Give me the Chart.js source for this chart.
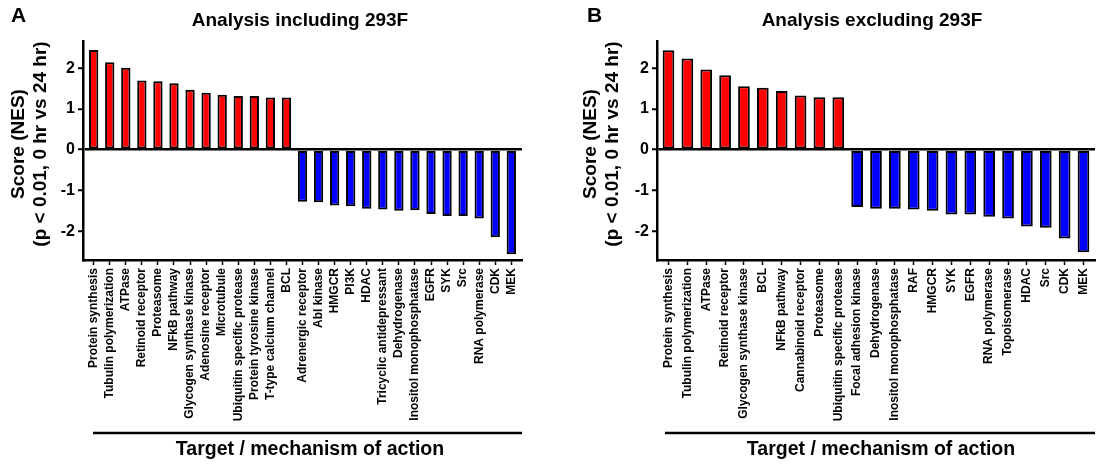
<!DOCTYPE html>
<html>
<head>
<meta charset="utf-8">
<script src="https://cdn.jsdelivr.net/npm/chart.js@4"></script>
<style>
  html, body { margin:0; padding:0; background:#fff; }
  body { width:1103px; height:464px; position:relative; overflow:hidden; }
  canvas { position:absolute; top:0; }
</style>
</head>
<body>
<canvas id="chartA" width="551" height="464" style="left:0"></canvas>
<canvas id="chartB" width="552" height="464" style="left:551px"></canvas>
<script>
const FONT = '"Liberation Sans", Arial, Helvetica, sans-serif';

// panel A: including 293F
const labelsA = ['Protein synthesis','Tubulin polymerization','ATPase','Retinoid receptor','Proteasome',
  'NFkB pathway','Glycogen synthase kinase','Adenosine receptor','Microtubule','Ubiquitin specific protease',
  'Protein tyrosine kinase','T-type calcium channel','BCL','Adrenergic receptor','Abl kinase','HMGCR','PI3K',
  'HDAC','Tricyclic antidepressant','Dehydrogenase','Inositol monophosphatase','EGFR','SYK','Src',
  'RNA polymerase','CDK','MEK'];
const scoresA = [2.45, 2.15, 2.01, 1.70, 1.68, 1.63, 1.47, 1.40, 1.35, 1.32, 1.32, 1.28, 1.28,
  -1.28, -1.29, -1.37, -1.39, -1.45, -1.47, -1.50, -1.49, -1.58, -1.63, -1.63, -1.69, -2.15, -2.57];

// panel B: excluding 293F
const labelsB = ['Protein synthesis','Tubulin polymerization','ATPase','Retinoid receptor','Glycogen synthase kinase',
  'BCL','NFkB pathway','Cannabinoid receptor','Proteasome','Ubiquitin specific protease','Focal adhesion kinase',
  'Dehydrogenase','Inositol monophosphatase','RAF','HMGCR','SYK','EGFR','RNA polymerase','Topoisomerase',
  'HDAC','Src','CDK','MEK'];
const scoresB = [2.44, 2.24, 1.97, 1.83, 1.56, 1.52, 1.44, 1.33, 1.29, 1.29,
  -1.41, -1.45, -1.45, -1.47, -1.50, -1.59, -1.59, -1.65, -1.69, -1.89, -1.92, -2.18, -2.52];

const yTicks = [-2, -1, 0, 1, 2];

const panelText = {
  id: 'panelText',
  afterDraw(chart, args, o) {
    const ctx = chart.ctx;
    ctx.save();
    ctx.fillStyle = '#000';
    ctx.strokeStyle = '#000';
    ctx.font = `bold 21px ${FONT}`;
    ctx.textAlign = 'left';
    ctx.textBaseline = 'alphabetic';
    ctx.fillText(o.letter, o.letterX, 22);
    ctx.font = `bold 19px ${FONT}`;
    ctx.textAlign = 'center';
    ctx.fillText(o.title, o.titleX, 26);

    // y title, two lines
    ctx.save();
    ctx.translate(o.yTitleX, 144);
    ctx.rotate(-Math.PI / 2);
    ctx.textBaseline = 'middle';
    ctx.fillText('Score (NES)', 0, 0);
    ctx.fillText('(p < 0.01, 0 hr vs 24 hr)', 0, 22.5);
    ctx.restore();

    // bracket line + x title
    ctx.lineWidth = 2.5;
    ctx.beginPath();
    ctx.moveTo(o.lineX0, 433);
    ctx.lineTo(o.lineX1, 433);
    ctx.stroke();
    ctx.font = `bold 19.5px ${FONT}`;
    ctx.fillText('Target / mechanism of action', o.xTitleX, 455);
    ctx.restore();
  }
};

function drawChart(id, labels, scores, cfg) {
  const n = labels.length;
  return new Chart(document.getElementById(id), {
    type: 'bar',
    data: {
      datasets: [{
        data: scores.map((v, i) => ({x: i, y: v})),
        backgroundColor: scores.map(v => v >= 0 ? '#ff0000' : '#0000ff'),
        borderColor: '#000',
        borderWidth: 2,
        borderSkipped: false,
        barPercentage: cfg.barPct,
        categoryPercentage: 1
      }]
    },
    options: {
      responsive: false,
      animation: false,
      layout: { padding: { top: 41, right: cfg.padRight, left: 0, bottom: 0 } },
      plugins: { legend: { display: false }, tooltip: { enabled: false }, panelText: cfg.text },
      scales: {
        x: {
          type: 'linear',
          offset: false,
          min: -cfg.edge,
          max: n - 1 + cfg.edge,
          afterBuildTicks: s => { s.ticks = labels.map((_, i) => ({value: i})); },
          afterFit: s => { s.height = 204; },
          ticks: {
            autoSkip: false, minRotation: 90, maxRotation: 90, padding: 3, color: '#000',
            font: { family: FONT, size: 12, weight: 'bold' },
            callback: v => labels[v]
          },
          grid: { offset: false, drawOnChartArea: false, drawTicks: true, tickLength: 5, tickColor: '#000', tickWidth: 1.5 },
          border: { display: true, color: '#000', width: 2.5 }
        },
        y: {
          min: -2.71,
          max: 2.67,
          afterBuildTicks: s => { s.ticks = yTicks.map(v => ({value: v})); },
          afterFit: s => { s.width = cfg.yWidth; },
          ticks: {
            padding: 3, color: '#000',
            font: { family: FONT, size: 16, weight: 'bold' },
            callback: v => String(v)
          },
          grid: {
            color: c => (c.tick && c.tick.value === 0) ? '#000' : 'rgba(0,0,0,0)',
            lineWidth: 2.5, drawTicks: true, tickLength: 5, tickColor: '#000', tickWidth: 2
          },
          border: { display: true, color: '#000', width: 2.5 }
        }
      }
    },
    plugins: [panelText]
  });
}

drawChart('chartA', labelsA, scoresA, {
  barPct: 0.58, edge: 0.665, padRight: 29, yWidth: 83,
  text: { letter: 'A', letterX: 11, title: 'Analysis including 293F', titleX: 300,
          yTitleX: 18.5, lineX0: 93, lineX1: 522, xTitleX: 310 }
});
drawChart('chartB', labelsB, scoresB, {
  barPct: 0.62, edge: 0.61, padRight: 8, yWidth: 106,
  text: { letter: 'B', letterX: 36, title: 'Analysis excluding 293F', titleX: 321,
          yTitleX: 39.5, lineX0: 114, lineX1: 544, xTitleX: 330 }
});
</script>
</body>
</html>
